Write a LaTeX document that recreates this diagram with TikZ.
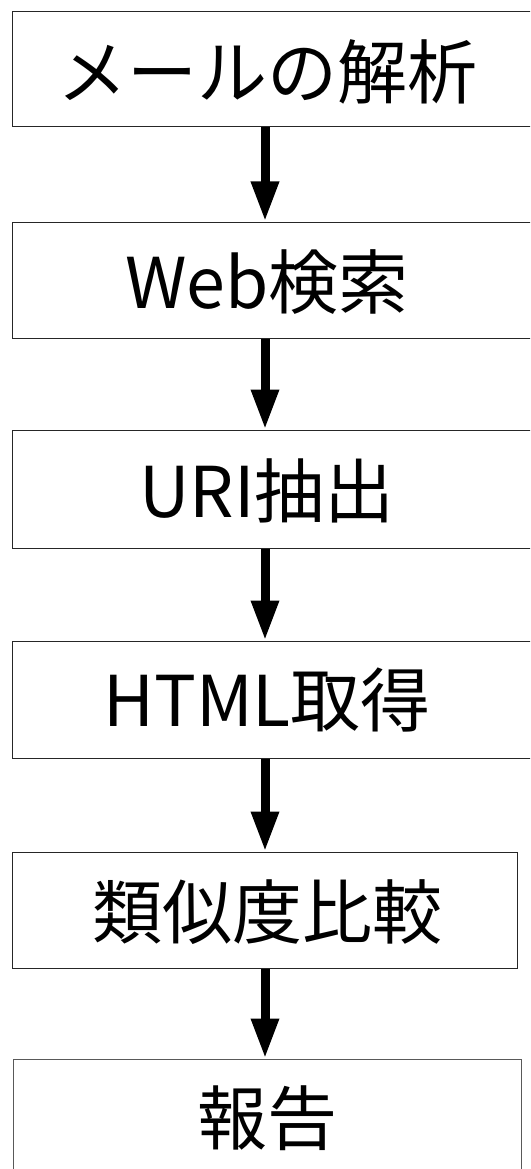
\documentclass[tikz,border=0pt]{standalone}
\usepackage{fontspec}
\newfontfamily\jpfont{Noto Sans CJK JP}
\usetikzlibrary{arrows.meta}
\begin{document}
\begin{tikzpicture}[x=1pt,y=-1pt,
  box/.style={draw=black!85, line width=1pt, rectangle, inner sep=0pt, fill=white},
  lbl/.style={font=\jpfont\fontsize{70}{84}\selectfont, inner sep=0pt, text=black},
  arr/.style={line width=9pt, -{Triangle[width=26pt,length=40pt]}}]
\useasboundingbox (0,0) rectangle (530,1169);
\clip (0,0) rectangle (530,1169);
\coordinate (ax) at (265,0);
\node[box, minimum width=528pt, minimum height=115pt] (b1) at (276,69.5) {};
\node[box, minimum width=528pt, minimum height=116pt] (b2) at (276,280) {};
\node[box, minimum width=528pt, minimum height=118pt] (b3) at (276,489) {};
\node[box, minimum width=528pt, minimum height=117pt] (b4) at (276,699.5) {};
\node[box, minimum width=505pt, minimum height=116pt] (b5) at (264.5,910) {};
\node[box, draw=black!65, minimum width=507.5pt, minimum height=116pt] (b6) at (267.25,1117) {};
\node[lbl] (t1) at (267,72) {メールの解析};
\node[lbl] (t2) at (267,282) {Web検索};
\node[lbl] (t3) at (267,491) {URI抽出};
\node[lbl] (t4) at (267,700) {HTML取得};
\node[lbl] (t5) at (267,912) {類似度比較};
\node[lbl] (t6) at (267,1118) {報告};
\draw[arr] (b1.south -| ax) -- (b2.north -| ax);
\draw[arr] (b2.south -| ax) -- (b3.north -| ax);
\draw[arr] (b3.south -| ax) -- (b4.north -| ax);
\draw[arr] (b4.south -| ax) -- (b5.north -| ax);
\draw[arr] (b5.south -| ax) -- (b6.north -| ax);
\end{tikzpicture}
\end{document}
